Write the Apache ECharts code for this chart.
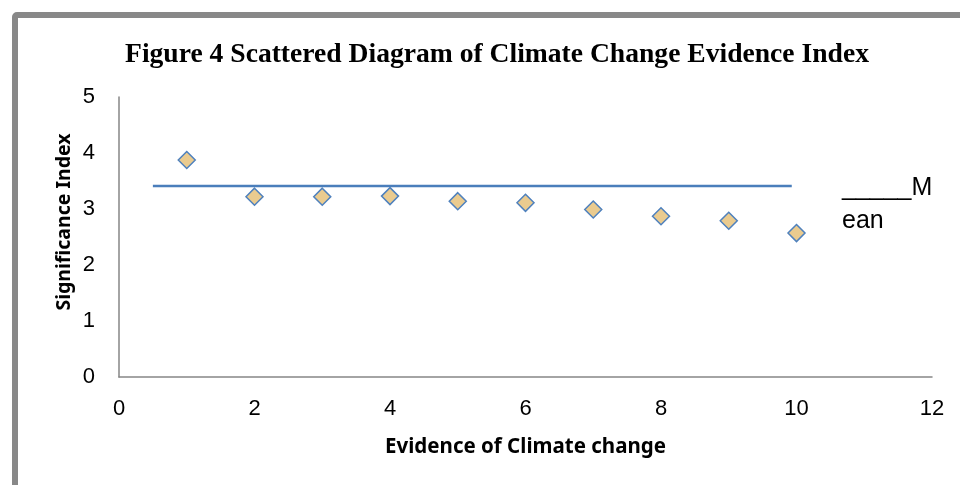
<!DOCTYPE html>
<html>
<head>
<meta charset="utf-8">
<script src="https://cdn.jsdelivr.net/npm/echarts@6/dist/echarts.min.js"></script>
<style>
html,body{margin:0;padding:0;background:#fff;}
#chart{width:960px;height:485px;}
</style>
</head>
<body>
<div id="chart"></div>
<script>
var evidenceX = [1, 2, 3, 4, 5, 6, 7, 8, 9, 10];
var significance = [3.875, 3.22, 3.22, 3.23, 3.14, 3.11, 2.99, 2.87, 2.79, 2.57];
var meanX = [0.5, 9.93];
var meanValue = 3.41;
var xTicks = [0, 2, 4, 6, 8, 10, 12];
var yTicks = [0, 1, 2, 3, 4, 5];

var chart = echarts.init(document.getElementById('chart'));
var tickFont = '"Liberation Sans", "Noto Sans", sans-serif';
var nameFont = '"Noto Sans", "Liberation Sans", sans-serif';
chart.setOption({
  animation: false,
  backgroundColor: '#fff',
  title: {
    text: 'Figure 4 Scattered Diagram of Climate Change Evidence Index',
    left: 492, top: 36, textAlign: 'center',
    textStyle: { fontFamily: '"Liberation Serif", "Times New Roman", serif', fontWeight: 'bold', fontSize: 27.6, color: '#000' }
  },
  grid: { left: 119, right: 28, top: 97, bottom: 108 },
  xAxis: {
    type: 'value', min: xTicks[0], max: xTicks[xTicks.length - 1], interval: 2,
    name: 'Evidence of Climate change', nameLocation: 'middle', nameGap: 60,
    nameTextStyle: { fontFamily: nameFont, fontWeight: 'bold', fontSize: 20.5, color: '#000' },
    axisLine: { show: true, lineStyle: { color: '#868686', width: 1.5 } },
    axisTick: { show: false },
    splitLine: { show: false },
    axisLabel: { margin: 21, fontFamily: tickFont, fontSize: 22, color: '#000' }
  },
  yAxis: {
    type: 'value', min: yTicks[0], max: yTicks[yTicks.length - 1], interval: 1,
    axisLine: { show: true, lineStyle: { color: '#868686', width: 1.5 } },
    axisTick: { show: false },
    splitLine: { show: false },
    axisLabel: { margin: 24, fontFamily: tickFont, fontSize: 22, color: '#000' }
  },
  series: [
    {
      type: 'line',
      data: meanX.map(function (x) { return [x, meanValue]; }),
      showSymbol: false, symbol: 'none',
      lineStyle: { color: '#4A7EBB', width: 2.5 },
      z: 2
    },
    {
      type: 'scatter',
      data: evidenceX.map(function (x, i) { return [x, significance[i]]; }),
      symbol: 'diamond', symbolSize: 17,
      itemStyle: { color: '#EACB8F', borderColor: '#4F81BD', borderWidth: 1.5, opacity: 1 },
      z: 3
    }
  ],
  graphic: [
    {
      type: 'rect', z: 100, silent: true,
      shape: { x: 15, y: 15, width: 980, height: 500, r: 2 },
      style: { fill: 'none', stroke: '#888888', lineWidth: 6 }
    },
    {
      type: 'text', z: 100, x: 64, y: 222, rotation: Math.PI / 2,
      style: { text: 'Significance Index', fontFamily: nameFont, fontWeight: 'bold', fontSize: 19.5, fill: '#000', align: 'center', verticalAlign: 'middle' }
    },
    {
      type: 'text', left: 842, top: 172, z: 100,
      style: { text: '_____M\nean', fontFamily: tickFont, fontSize: 25, lineHeight: 33, fill: '#000' }
    }
  ]
});
</script>
</body>
</html>
